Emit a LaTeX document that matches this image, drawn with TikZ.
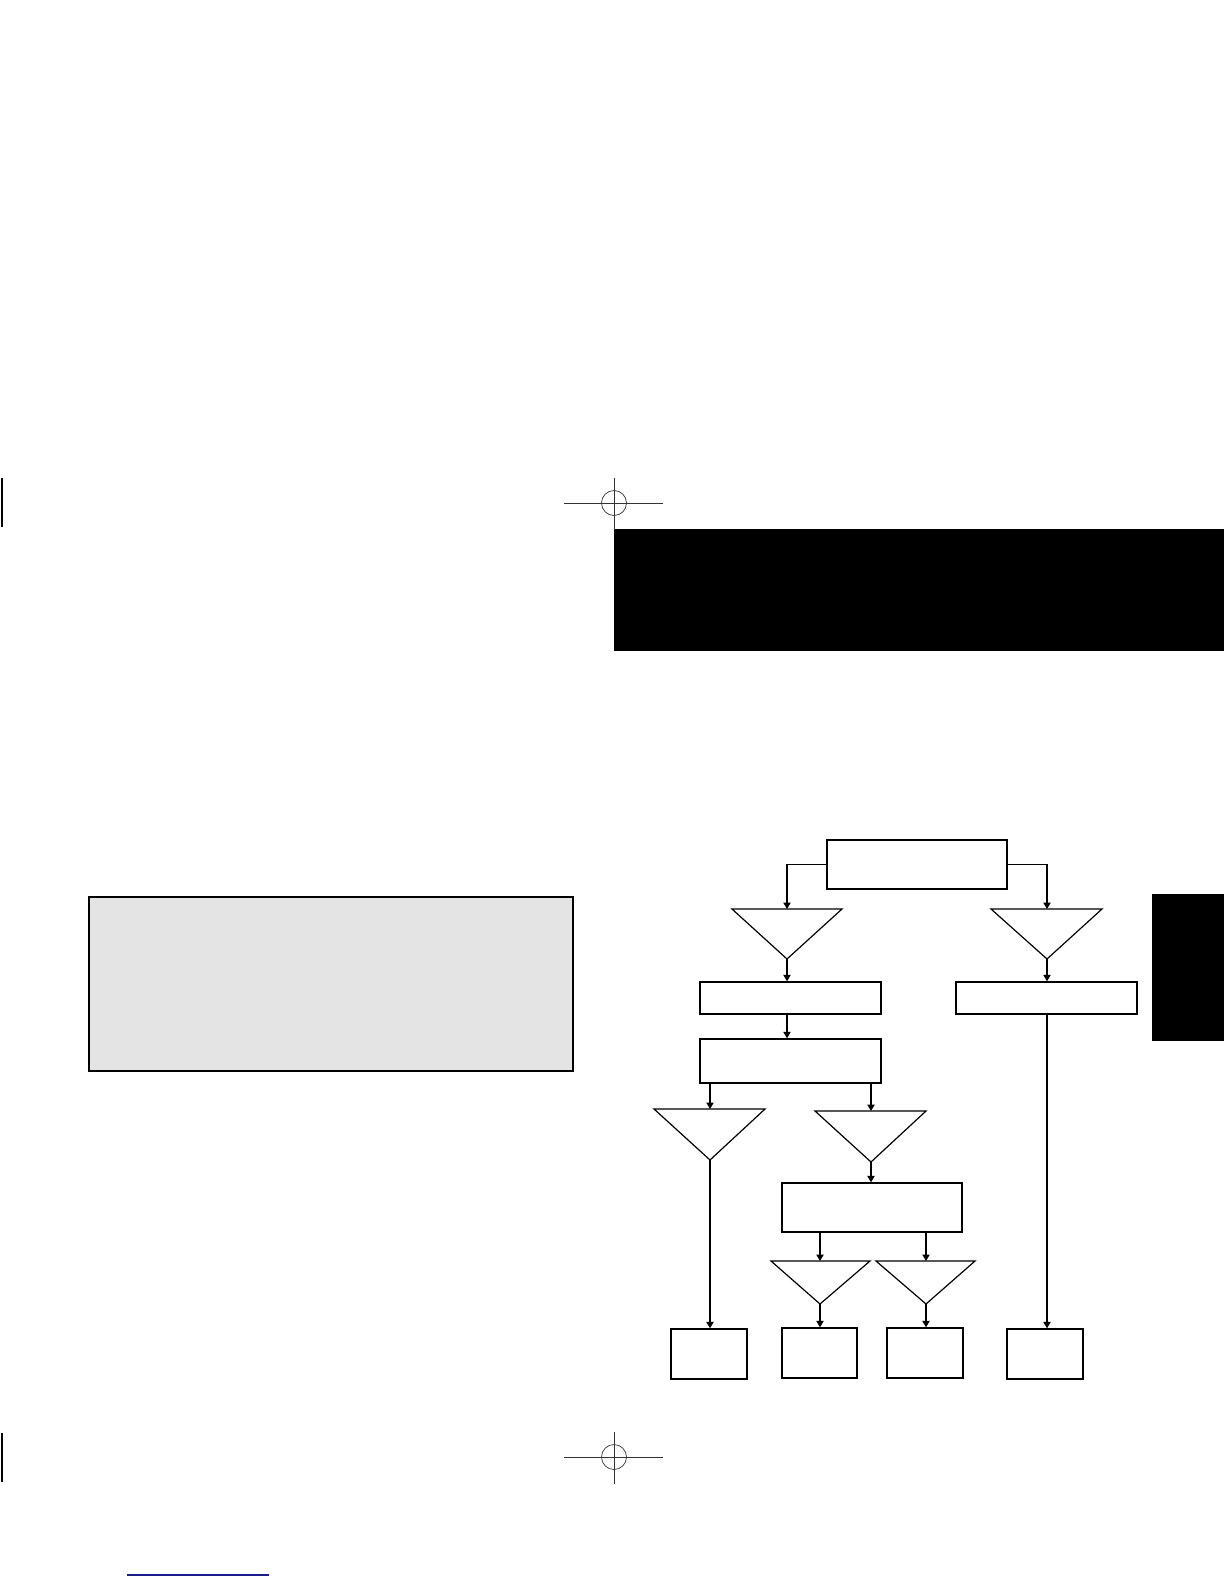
\documentclass[tikz,border=0pt]{standalone}
\usepackage{amsmath}
\usetikzlibrary{arrows.meta}

\definecolor{panelgray}{RGB}{228,228,228}
\definecolor{ruleblue}{RGB}{28,28,140}

\begin{document}
\begin{tikzpicture}[x=0.5pt,y=-0.5pt,
    box/.style={draw, line width=0.7pt, inner sep=0pt},
    funnel/.style={draw, line width=0.6pt, line join=miter},
    arr/.style={line width=0.6pt, -{Triangle[length=3.2pt,width=3.6pt]}},
    cropmark/.style={line width=0.35pt, black!80}]
    \useasboundingbox (0,0) rectangle (1224,1584);

    % page furniture
    \fill (614,529) rectangle (1224,651);
    \fill (1152,894) rectangle (1224,1041);
    \draw [line width=0.7pt, fill=panelgray] (89,897) rectangle (573,1071);
    \draw [line width=1pt, ruleblue] (127,1575) -- (269,1575);

    \coordinate (C1) at (614,503);
    \coordinate (C2) at (614,1457);
    \draw [cropmark] (C1) ++(-50,0) -- ++(99,0);
    \draw [cropmark] (C1) ++(0,-25) -- ++(0,52);
    \draw [cropmark] (C1) circle [radius=12.5];
    \draw [cropmark] (C2) ++(-50,0) -- ++(99,0);
    \draw [cropmark] (C2) ++(0,-25) -- ++(0,52);
    \draw [cropmark] (C2) circle [radius=12.5];
    \draw [line width=0.8pt] (2,478) -- (2,527);
    \draw [line width=0.8pt] (2,1433) -- (2,1482);

    % boxes
    \node [box, minimum width=90pt, minimum height=24.5pt] (start) at (917,864.5) {};
    \node [box, minimum width=90.5pt, minimum height=16pt] (l1) at (790.5,998) {};
    \node [box, minimum width=90.5pt, minimum height=16pt] (r1) at (1046.5,998) {};
    \node [box, minimum width=90.5pt, minimum height=22pt] (l2) at (790.5,1061) {};
    \node [box, minimum width=90pt, minimum height=24.5pt] (mid) at (872,1207.5) {};
    \node [box, minimum width=38pt, minimum height=25pt] (b1) at (709,1354) {};
    \node [box, minimum width=37.5pt, minimum height=25pt] (b2) at (819.5,1353) {};
    \node [box, minimum width=38pt, minimum height=25pt] (b3) at (925,1353) {};
    \node [box, minimum width=38pt, minimum height=25pt] (b4) at (1045,1354) {};

    % funnels
    \coordinate (t1) at (787,909);   \coordinate (t1a) at (787,959);
    \coordinate (t2) at (1047,909);  \coordinate (t2a) at (1047,959);
    \coordinate (t3) at (710,1109);  \coordinate (t3a) at (710,1160);
    \coordinate (t4) at (871,1111);  \coordinate (t4a) at (871,1162);
    \coordinate (t5) at (820,1261);  \coordinate (t5a) at (820,1304);
    \coordinate (t6) at (926,1261);  \coordinate (t6a) at (926,1304);

    \draw [funnel] (t1) ++(-55,0) -- ++(110,0) -- (t1a) -- cycle;
    \draw [funnel] (t2) ++(-56,0) -- ++(111,0) -- (t2a) -- cycle;
    \draw [funnel] (t3) ++(-56,0) -- ++(111,0) -- (t3a) -- cycle;
    \draw [funnel] (t4) ++(-56,0) -- ++(111,0) -- (t4a) -- cycle;
    \draw [funnel] (t5) ++(-49,0) -- ++(99,0) -- (t5a) -- cycle;
    \draw [funnel] (t6) ++(-50,0) -- ++(99,0) -- (t6a) -- cycle;

    % connectors
    \draw [arr] (start.west) -| (t1);
    \draw [arr] (start.east) -| (t2);
    \draw [arr] (t1a) -- (t1a |- l1.north);
    \draw [arr] (t2a) -- (t2a |- r1.north);
    \draw [arr] (t1a |- l1.south) -- (t1a |- l2.north);
    \draw [arr] (t3 |- l2.south) -- (t3);
    \draw [arr] (t4 |- l2.south) -- (t4);
    \draw [arr] (t4a) -- (t4a |- mid.north);
    \draw [arr] (t5 |- mid.south) -- (t5);
    \draw [arr] (t6 |- mid.south) -- (t6);
    \draw [arr] (t3a) -- (t3a |- b1.north);
    \draw [arr] (t5a) -- (t5a |- b2.north);
    \draw [arr] (t6a) -- (t6a |- b3.north);
    \draw [arr] (t2a |- r1.south) -- (t2a |- b4.north);
\end{tikzpicture}
\end{document}
